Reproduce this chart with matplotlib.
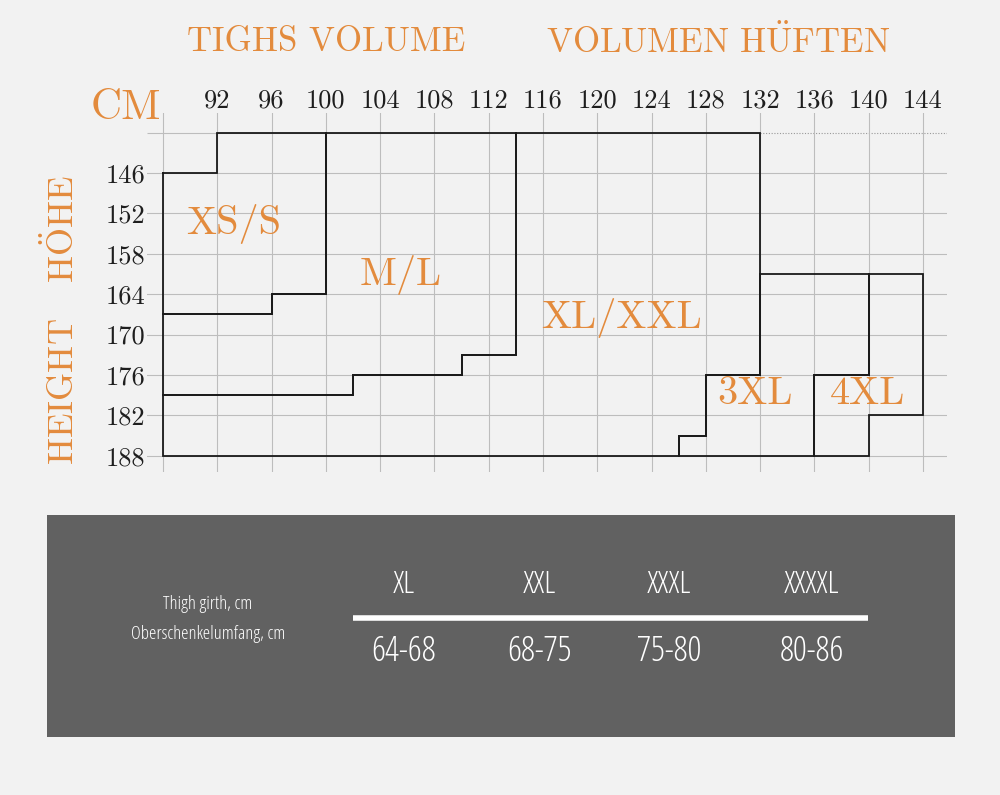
import numpy as np
import matplotlib.pyplot as plt
from matplotlib import font_manager
from matplotlib.font_manager import FontProperties

plt.rcParams['font.family'] = ['cmr10', 'DejaVu Serif']
plt.rcParams['mathtext.fontset'] = 'cm'
plt.rcParams['axes.formatter.use_mathtext'] = True

ORANGE = '#e38b3d'
BG = '#f2f2f2'
PANEL = '#616161'
GRID = '#bdbdbd'

# hip volume (cm) and height (cm) grid
hip_ticks = [88, 92, 96, 100, 104, 108, 112, 116, 120, 124, 128, 132, 136, 140, 144]
height_ticks = [146, 152, 158, 164, 170, 176, 182, 188]
top_height = 140

# size zones as outlines (hip, height)
size_names = ['XS/S', 'M/L', 'XL/XXL', '3XL', '4XL']
xs_s = [(88, 146), (92, 146), (92, 140), (100, 140), (100, 164), (96, 164),
        (96, 167), (88, 167), (88, 146)]
m_l = [(100, 140), (114, 140), (114, 173), (110, 173), (110, 176), (102, 176),
       (102, 179), (88, 179), (88, 167), (96, 167), (96, 164), (100, 164), (100, 140)]
xl_xxl = [(114, 140), (132, 140), (132, 176), (128, 176), (128, 185), (126, 185),
          (126, 188), (88, 188), (88, 179), (102, 179), (102, 176), (110, 176),
          (110, 173), (114, 173), (114, 140)]
xxxl = [(132, 161), (140, 161), (140, 176), (136, 176), (136, 188), (126, 188),
        (126, 185), (128, 185), (128, 176), (132, 176), (132, 161)]
xxxxl = [(140, 161), (144, 161), (144, 182), (140, 182), (140, 188), (136, 188),
         (136, 176), (140, 176), (140, 161)]
outlines = [xs_s, m_l, xl_xxl, xxxl, xxxxl]
name_spots = [(93.2, 153.6), (105.5, 161.1), (121.75, 167.5), (131.6, 178.9), (139.9, 178.9)]

# thigh girth table
thigh_sizes = ['XL', 'XXL', 'XXXL', 'XXXXL']
thigh_ranges = ['64-68', '68-75', '75-80', '80-86']


def narrow_font():
    # look for a condensed / narrow face, light ones first
    files = [f.fname for f in font_manager.fontManager.ttflist]
    for key in ['CondLight', 'CondensedLight', 'Condensed-Light', 'SansNarrow-Regular',
                'Narrow-Regular', 'Condensed.ttf', 'Condensed-Regular', 'Narrow']:
        hits = sorted(p for p in files if key in p)
        if hits:
            return FontProperties(fname=hits[0])
    return FontProperties(family='DejaVu Sans')


fig = plt.figure(figsize=(10, 7.95), dpi=100)
fig.patch.set_facecolor(BG)

ax = fig.add_axes([0.1467, 0.4063, 0.8007, 0.4516])
ax.set_facecolor(BG)
ax.set_xlim(86.8, 145.8)
ax.set_ylim(190.42, 137.07)
for s in ax.spines.values():
    s.set_visible(False)

ax.set_xticks(hip_ticks)
ax.set_xticklabels([''] + [str(v) for v in hip_ticks[1:]])
ax.set_yticks(height_ticks)
ax.set_yticklabels([str(v) for v in height_ticks])
ax.tick_params(axis='x', top=True, bottom=False, labeltop=True, labelbottom=False,
               length=0, pad=0, labelsize=19, colors='#1e1e1e')
ax.tick_params(axis='y', length=0, pad=1, labelsize=19, colors='#1e1e1e')
ax.grid(True, color=GRID, lw=0.8)
ax.set_axisbelow(True)

# top line: solid under the boxes, dotted past them
ax.hlines(top_height, ax.get_xlim()[0], 132, color=GRID, lw=0.8, zorder=0.5)
ax.hlines(top_height, 132, ax.get_xlim()[1], color='#999999', lw=0.8,
          linestyles=(0, (1, 1.5)), zorder=0.5)

for pts, name, (tx, ty) in zip(outlines, size_names, name_spots):
    pts = np.array(pts)
    ax.plot(pts[:, 0], pts[:, 1], color='#1a1a1a', lw=1.3, solid_joinstyle='miter')
    ax.text(tx, ty, name, color=ORANGE, fontsize=29, ha='center', va='center')

fig.text(0.126, 1 - 108 / 795, 'CM', color=ORANGE, fontsize=31, ha='center', va='center')
fig.text(0.326, 1 - 42 / 795, 'TIGHS VOLUME', color=ORANGE, fontsize=25,
         ha='center', va='center')
fig.text(0.718, 1 - 42 / 795, r'VOLUMEN H$\ddot{\mathrm{U}}$FTEN', color=ORANGE,
         fontsize=25, ha='center', va='center')
fig.text(0.062, 1 - 320 / 795, r'HEIGHT   H$\ddot{\mathrm{O}}$HE', color=ORANGE,
         fontsize=26, ha='center', va='center', rotation=90)

# thigh girth panel
pax = fig.add_axes([0.047, 1 - 737 / 795, 0.908, 222 / 795])
pax.set_xlim(0, 1)
pax.set_ylim(0, 1)
pax.set_facecolor(PANEL)
pax.set_xticks([])
pax.set_yticks([])
for s in pax.spines.values():
    s.set_visible(False)

fp = narrow_font()
pax.text(0.177, 0.599, 'Thigh girth, cm', color='white', fontproperties=fp,
         fontsize=13.5, ha='center', va='center')
pax.text(0.178, 0.464, 'Oberschenkelumfang, cm', color='white', fontproperties=fp,
         fontsize=13.5, ha='center', va='center')
pax.plot([0.337, 0.904], [0.536, 0.536], color='white', lw=4, solid_capstyle='butt')
col_x = [0.393, 0.542, 0.685, 0.842]
for cx, code, rng in zip(col_x, thigh_sizes, thigh_ranges):
    pax.text(cx, 0.685, code, color='white', fontproperties=fp, fontsize=23,
             ha='center', va='center')
    pax.text(cx, 0.383, rng, color='white', fontproperties=fp, fontsize=25,
             ha='center', va='center')

fig.savefig('out.png', dpi=100, facecolor=BG)
